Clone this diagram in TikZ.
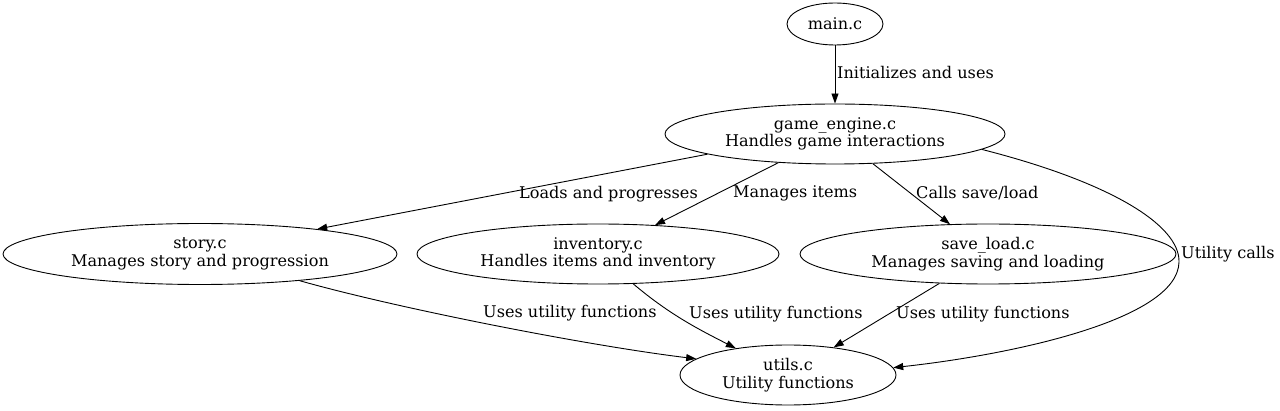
\documentclass[tikz,border=0pt]{standalone}
\usepackage{fontspec}
\setmainfont{DejaVu Serif}
\usetikzlibrary{positioning,shapes.geometric,arrows.meta}

\begin{document}
\begin{tikzpicture}
            [
                x=1pt, y=-1pt,
                modulo/.style={ellipse, draw, line width=0.9pt, inner sep=0pt, align=center, font=\fontsize{16.1}{17.5}\selectfont},
                rotulo/.style={inner sep=0pt, anchor=west, font=\fontsize{16.1}{17.5}\selectfont},
                seta/.style={-{Triangle[length=10pt,width=7pt]}, line width=0.9pt},
            ]
            %obs: y=-1pt, coordenadas em pixels
            \useasboundingbox (0,0) rectangle (1280,411);
            \node[modulo, minimum width=96pt, minimum height=42pt] (main) at (835,24) {main.c};
            \node[modulo, minimum width=340pt, minimum height=60pt] (ge) at (835,134) {game\_engine.c\\Handles game interactions};
            \node[modulo, minimum width=394pt, minimum height=61pt] (story) at (200,254) {story.c\\Manages story and progression};
            \node[modulo, minimum width=362pt, minimum height=60pt] (inv) at (598,254) {inventory.c\\Handles items and inventory};
            \node[modulo, minimum width=376pt, minimum height=60pt] (sl) at (988,254) {save\_load.c\\Manages saving and loading};
            \node[modulo, minimum width=216pt, minimum height=60pt] (utils) at (788,375) {utils.c\\Utility functions};

            %obs: rotulos das setas
            \node[rotulo] (r1) at (837,73) {Initializes and uses};
            \node[rotulo] (r2) at (519,194) {Loads and progresses};
            \node[rotulo] (r3) at (733,193) {Manages items};
            \node[rotulo] (r4) at (916,193) {Calls save/load};
            \node[rotulo] (r5) at (1181,254) {Utility calls};
            \node[rotulo] (r6) at (483,313) {Uses utility functions};
            \node[rotulo] (r7) at (689,314) {Uses utility functions};
            \node[rotulo] (r8) at (896,314) {Uses utility functions};

            \draw[seta] (main) -- (ge);
            \draw[seta] (ge.189) -- (story.12.8);
            \draw[seta] (ge) -- (inv);
            \draw[seta] (ge) -- (sl);
            \draw[seta] (ge.-6) .. controls (1110,182) and (1180,225) .. (1179,262)
                .. controls (1178,320) and (1010,355) .. (utils.4);
            \draw[seta] (story.-15) .. controls (400,309) and (590,346) .. (utils.170.8);
            \draw[seta] (inv) .. controls (670,315) and (700,330) .. (utils);
            \draw[seta] (sl) -- (utils);
        \end{tikzpicture}
\end{document}
